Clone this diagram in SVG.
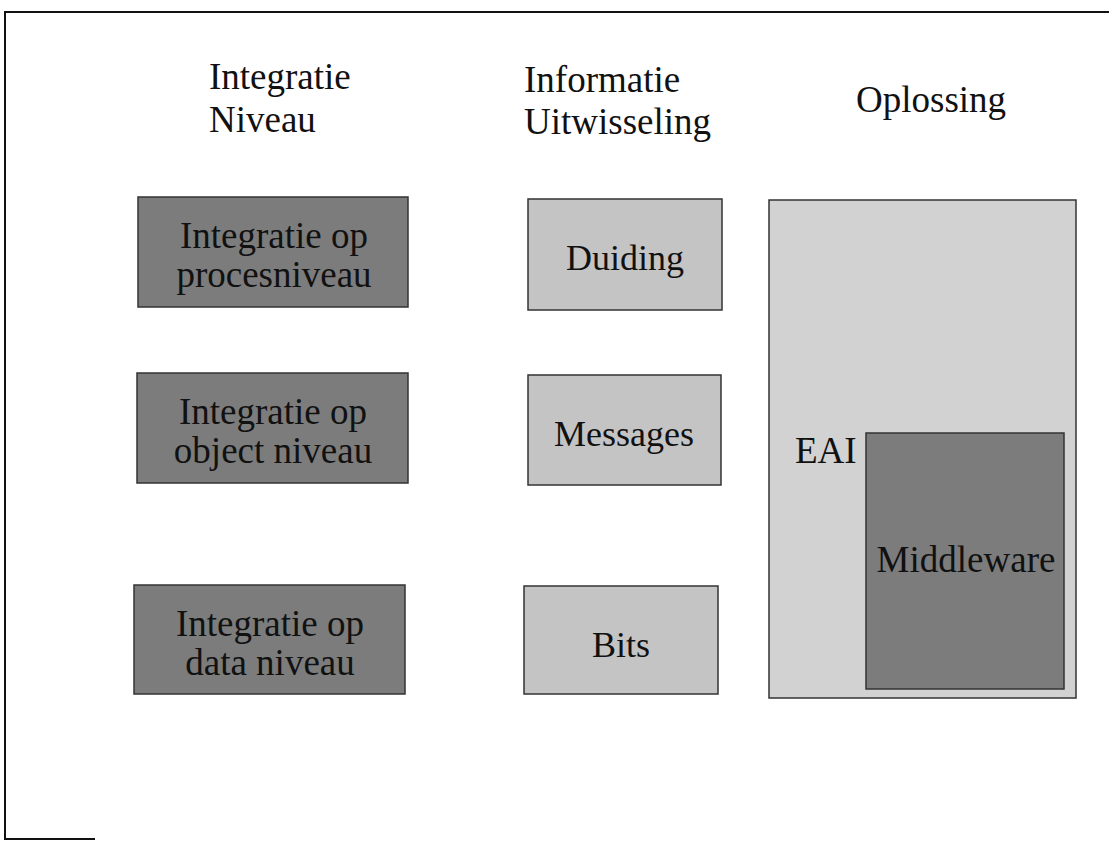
<svg xmlns="http://www.w3.org/2000/svg" width="1109" height="841" viewBox="0 0 1109 841">
<style>
text{font-family:"Liberation Serif","Times New Roman",serif;fill:#111}
.hdr{font-size:37px}
.lbl{font-size:37px}
.mid{font-size:36px}
.dark{fill:#7c7c7c;stroke:#333;stroke-width:1.5}
.light{fill:#c4c4c4;stroke:#333;stroke-width:1.5}
.big{fill:#d2d2d2;stroke:#333;stroke-width:1.5}
.frame{stroke:#111;stroke-width:2;fill:none}
</style>
<rect width="1109" height="841" fill="#fff"/>
<g id="frame">
<path class="frame" d="M1109 12 H5 V839 H95"/>
</g>
<g id="headers">
<text class="hdr" x="209" y="89">Integratie</text>
<text class="hdr" x="209" y="132">Niveau</text>
<text class="hdr" x="524" y="92">Informatie</text>
<text class="hdr" x="524" y="134">Uitwisseling</text>
<text class="hdr" x="856" y="112">Oplossing</text>
</g>
<g id="proces">
<rect class="dark" x="138" y="197" width="270" height="110"/>
<text class="lbl" x="274" y="248" text-anchor="middle">Integratie op</text>
<text class="lbl" x="274" y="287" text-anchor="middle">procesniveau</text>
</g>
<g id="object">
<rect class="dark" x="137" y="373" width="271" height="110"/>
<text class="lbl" x="273" y="424" text-anchor="middle">Integratie op</text>
<text class="lbl" x="273" y="463" text-anchor="middle">object niveau</text>
</g>
<g id="data">
<rect class="dark" x="134" y="585" width="271" height="109"/>
<text class="lbl" x="270" y="636" text-anchor="middle">Integratie op</text>
<text class="lbl" x="270" y="675" text-anchor="middle">data niveau</text>
</g>
<g id="duiding">
<rect class="light" x="528" y="199" width="194" height="111"/>
<text class="mid" x="625" y="270" text-anchor="middle">Duiding</text>
</g>
<g id="messages">
<rect class="light" x="528" y="375" width="193" height="110"/>
<text class="mid" x="624" y="446" text-anchor="middle">Messages</text>
</g>
<g id="bits">
<rect class="light" x="524" y="586" width="194" height="108"/>
<text class="mid" x="621" y="657" text-anchor="middle">Bits</text>
</g>
<g id="eai">
<rect class="big" x="769" y="200" width="307" height="498"/>
<text class="lbl" x="795" y="463">EAI</text>
</g>
<g id="middleware">
<rect class="dark" x="866" y="433" width="198" height="256"/>
<text class="lbl" x="966" y="572" text-anchor="middle">Middleware</text>
</g>
<g id="connectors"/>
</svg>
